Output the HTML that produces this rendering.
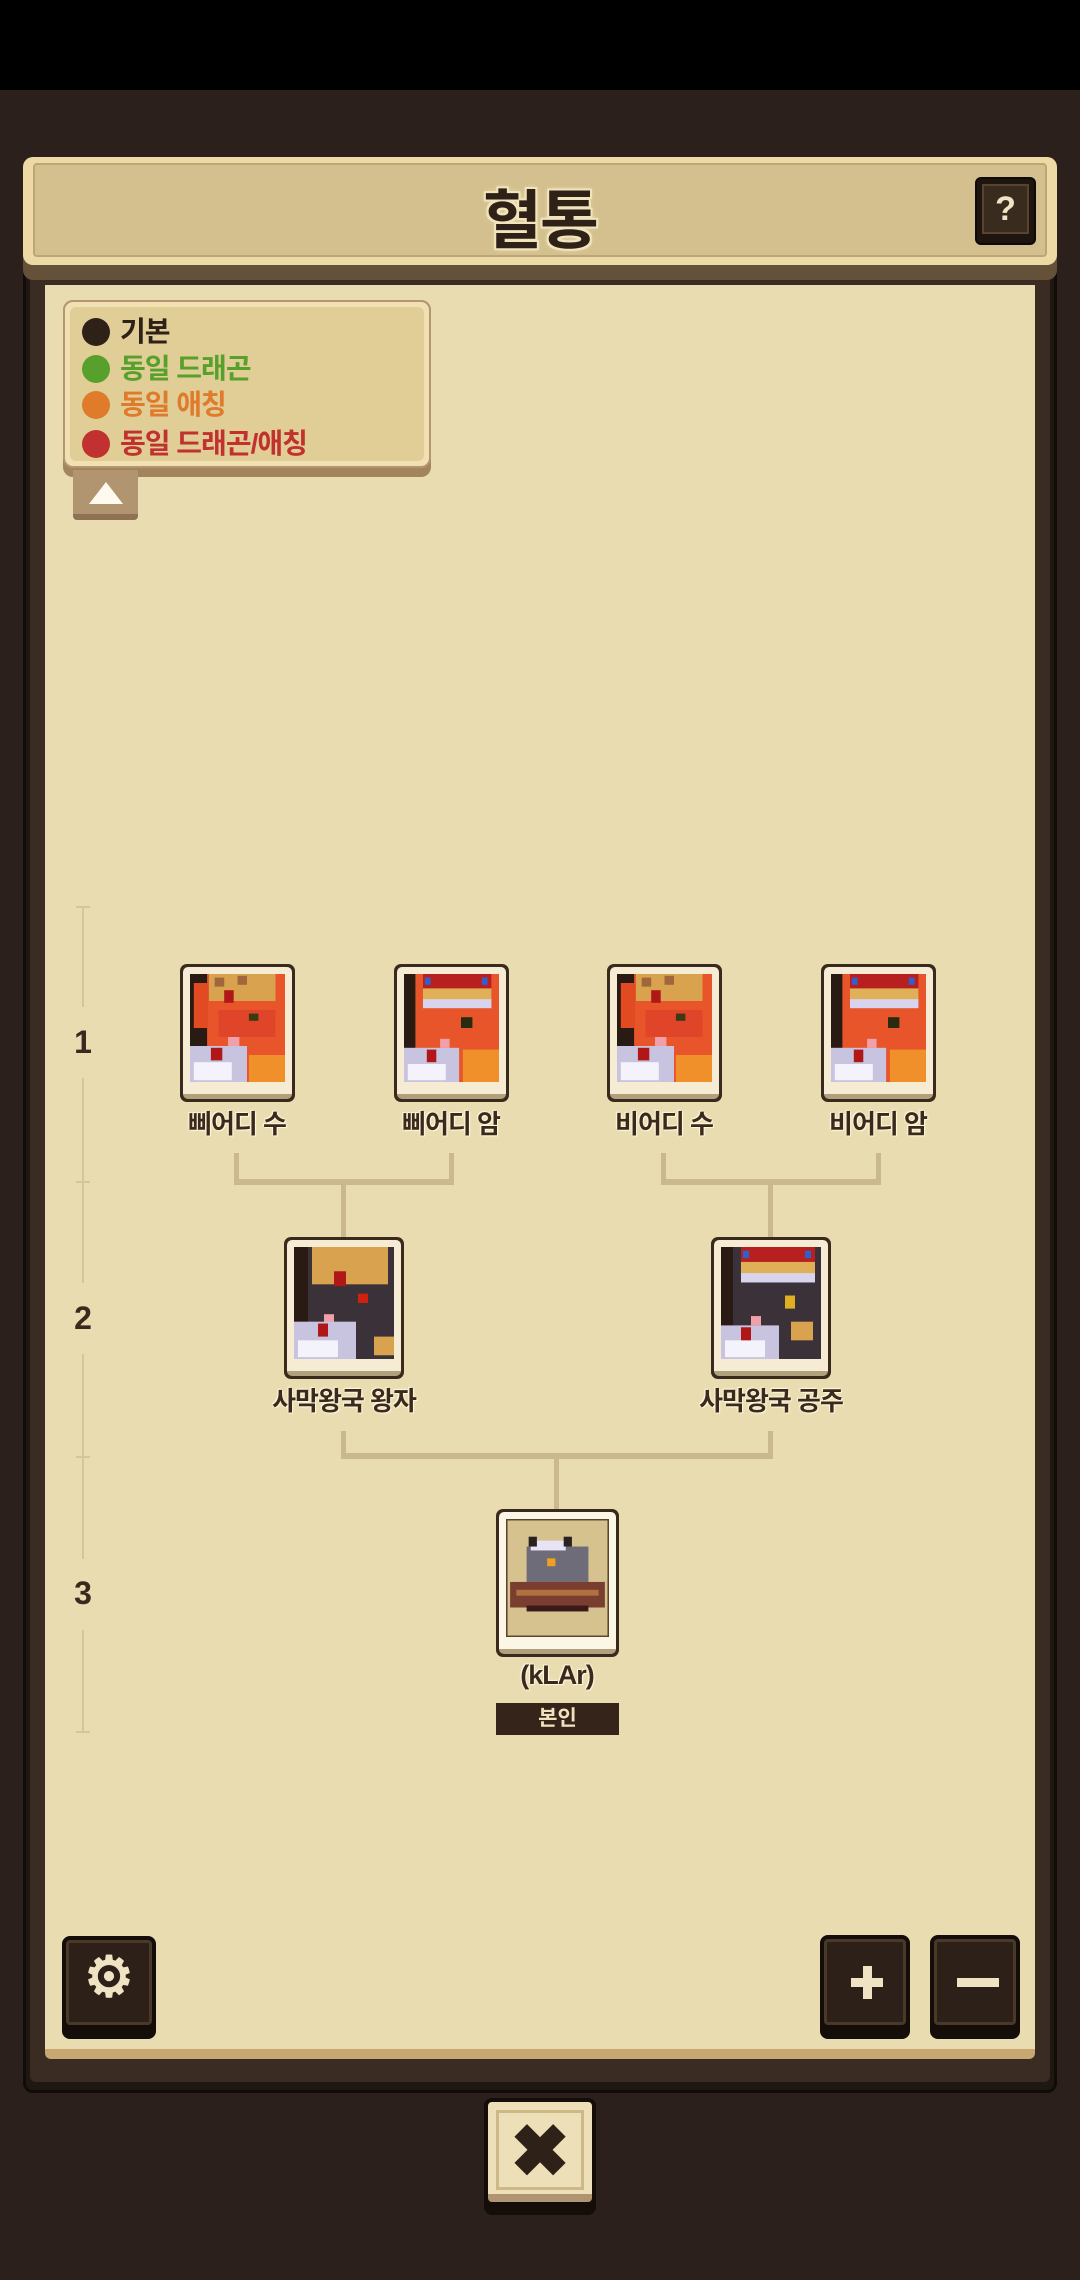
<!DOCTYPE html>
<html><head><meta charset="utf-8">
<style>
*{margin:0;padding:0;box-sizing:border-box}
body{width:1080px;height:2280px;background:#2b201c;position:relative;overflow:hidden;font-family:"Liberation Sans","Noto Sans CJK KR",sans-serif;font-weight:bold}
.abs{position:absolute}
.top{left:0;top:0;width:1080px;height:90px;background:#000}
.frame{left:23px;top:250px;width:1034px;height:1843px;background:#1f1712;border-radius:10px;border:3px solid #120c09}
.frame2{left:30px;top:260px;width:1020px;height:1822px;background:#3a2c22;border-radius:6px}
.cream{left:45px;top:285px;width:990px;height:1774px;background:#e8dcb0;border-bottom:10px solid #c6a870;border-radius:0 0 6px 6px}
.header{left:23px;top:157px;width:1034px;height:123px;background:#65503a;border-radius:10px}
.header .in{position:absolute;left:0;top:0;width:1034px;height:108px;background:#ecd9a4;border-radius:10px}
.header .in2{position:absolute;left:10px;top:6px;width:1014px;height:94px;background:#d3c08e;border:2px solid #bca676;border-radius:4px}
.title{left:0;width:1080px;top:170px;text-align:center;font-size:64px;color:#2e2118;-webkit-text-stroke:0;text-shadow:0 0 6px #f1e4bc,0 0 4px #f1e4bc,2px 2px 0 #f1e4bc,-2px -2px 0 #f1e4bc,2px -2px 0 #f1e4bc,-2px 2px 0 #f1e4bc;letter-spacing:-2px}
.qbtn{left:975px;top:177px;width:61px;height:68px;background:#1f150f;border-radius:6px;border:2px solid #0f0a07}
.qbtn div{position:absolute;left:5px;top:5px;right:5px;bottom:9px;background:#3a2b1f;border:2px solid #57432f;color:#f1e4c4;font-size:34px;text-align:center;line-height:46px}
.legend{left:63px;top:300px;width:368px;height:177px;background:#a3855d;border-radius:10px}
.legend .in{position:absolute;left:0;top:0;width:368px;height:168px;background:#f1e1b2;border-radius:10px;border:2px solid #b49670}
.legend .in2{position:absolute;left:5px;top:5px;right:5px;bottom:5px;background:#e1cd96;border-radius:6px}
.li{position:absolute;left:17px;font-size:28px;height:36px;line-height:36px;letter-spacing:-1px}
.li span{display:inline-block;width:28px;height:28px;border-radius:50%;vertical-align:-5px;margin-right:10px}
.tab{left:73px;top:470px;width:65px;height:50px;background:#8e7253;border-radius:0 0 4px 4px}
.tab div{position:absolute;left:0;top:0;width:65px;height:44px;background:#b09570}
.tab i{position:absolute;left:16px;top:12px;width:0;height:0;border-left:17px solid transparent;border-right:17px solid transparent;border-bottom:22px solid #fffaf0}
.lv{background:#d6c597;width:2px}
.tick{background:#d6c597;height:2px;width:14px}
.lvl{font-size:32px;color:#3a2a1e;width:40px;text-align:center}
.conn{background:#cbb98e}
.card{background:#3a2a1e;border-radius:7px;padding:3px}
.card .c{background:#f5ecd3;border-radius:5px;width:100%;height:100%;padding:7px 7px 12px;border-bottom:5px solid #b0a07c;position:relative}
.card svg{display:block;width:100%;height:100%}
.lab{font-size:26px;color:#3a2a1e;text-align:center;width:300px;letter-spacing:-1px;text-shadow:0 0 3px #fff6da,1px 1px 0 #fff6da,-1px -1px 0 #fff6da}
.dbtn{background:#140d09;border-radius:8px}
.dbtn .in{position:absolute;left:4px;top:4px;right:4px;bottom:14px;background:#2d2018;border:3px solid #4a3928;border-radius:4px;color:#efe3c4;text-align:center}
</style></head><body>
<div class="abs top"></div>
<div class="abs frame"></div>
<div class="abs frame2"></div>
<div class="abs cream"></div>
<div class="abs header"><div class="in"><div class="in2"></div></div></div>
<div class="abs title">혈통</div>
<div class="abs qbtn"><div>?</div></div>

<div class="abs legend"><div class="in"><div class="in2"></div>
<div class="li" style="top:12px;color:#2e2118"><span style="background:#2e2118"></span>기본</div>
<div class="li" style="top:49px;color:#58a02c"><span style="background:#58a02c"></span>동일 드래곤</div>
<div class="li" style="top:85px;color:#e07b2c"><span style="background:#e07b2c"></span>동일 애칭</div>
<div class="li" style="top:124px;color:#c0312f"><span style="background:#c0312f"></span>동일 드래곤/애칭</div>
</div></div>
<div class="abs tab"><div></div><i></i></div>

<!-- level scale -->
<div class="abs tick" style="left:76px;top:906px"></div>
<div class="abs lv" style="left:82px;top:907px;height:100px"></div>
<div class="abs lvl" style="left:63px;top:1024px">1</div>
<div class="abs lv" style="left:82px;top:1078px;height:205px"></div>
<div class="abs tick" style="left:76px;top:1181px"></div>
<div class="abs lvl" style="left:63px;top:1300px">2</div>
<div class="abs lv" style="left:82px;top:1354px;height:205px"></div>
<div class="abs tick" style="left:76px;top:1456px"></div>
<div class="abs lvl" style="left:63px;top:1575px">3</div>
<div class="abs lv" style="left:82px;top:1630px;height:102px"></div>
<div class="abs tick" style="left:76px;top:1731px"></div>

<!-- connectors -->
<div class="abs conn" style="left:234px;top:1153px;width:5px;height:32px"></div>
<div class="abs conn" style="left:449px;top:1153px;width:5px;height:32px"></div>
<div class="abs conn" style="left:234px;top:1179px;width:220px;height:6px"></div>
<div class="abs conn" style="left:341px;top:1183px;width:5px;height:55px"></div>
<div class="abs conn" style="left:661px;top:1153px;width:5px;height:32px"></div>
<div class="abs conn" style="left:876px;top:1153px;width:5px;height:32px"></div>
<div class="abs conn" style="left:661px;top:1179px;width:220px;height:6px"></div>
<div class="abs conn" style="left:768px;top:1183px;width:5px;height:55px"></div>
<div class="abs conn" style="left:341px;top:1431px;width:5px;height:28px"></div>
<div class="abs conn" style="left:768px;top:1431px;width:5px;height:28px"></div>
<div class="abs conn" style="left:341px;top:1453px;width:432px;height:6px"></div>
<div class="abs conn" style="left:554px;top:1457px;width:5px;height:53px"></div>

<svg width="0" height="0" style="position:absolute">
<defs>
<g id="redA">
<rect width="100" height="120" fill="#e8552a"/>
<rect x="0" y="0" width="18" height="120" fill="#2a1a14"/>
<rect x="4" y="10" width="14" height="50" fill="#e24a22"/>
<rect x="20" y="0" width="70" height="30" fill="#d8a24e"/>
<rect x="26" y="4" width="10" height="10" fill="#a0683a"/><rect x="50" y="2" width="10" height="10" fill="#a0683a"/>
<rect x="36" y="18" width="10" height="14" fill="#b01818"/>
<rect x="60" y="44" width="14" height="8" fill="#2a2a10"/>
<rect x="30" y="40" width="60" height="30" fill="#e0452a"/>
<rect x="62" y="44" width="10" height="8" fill="#3a3a14"/>
<rect x="40" y="70" width="12" height="10" fill="#f0a0a8"/>
<rect x="0" y="80" width="60" height="40" fill="#c8c4e0"/>
<rect x="4" y="98" width="40" height="20" fill="#f4f2fa"/>
<rect x="22" y="82" width="12" height="14" fill="#b01818"/>
<rect x="62" y="90" width="38" height="30" fill="#f0902a"/>
</g>
<g id="redB">
<rect width="100" height="120" fill="#e8552a"/>
<rect x="0" y="0" width="12" height="120" fill="#2a1a14"/>
<rect x="20" y="0" width="72" height="24" fill="#b82020"/>
<rect x="20" y="16" width="72" height="14" fill="#e0b058"/>
<rect x="22" y="4" width="6" height="8" fill="#3060d0"/><rect x="82" y="4" width="6" height="8" fill="#3060d0"/>
<rect x="20" y="28" width="72" height="10" fill="#d8d4ee"/>
<rect x="60" y="48" width="12" height="12" fill="#2a2a10"/>
<rect x="38" y="72" width="10" height="10" fill="#f0a0a8"/>
<rect x="0" y="82" width="58" height="38" fill="#c8c4e0"/>
<rect x="4" y="100" width="40" height="18" fill="#f4f2fa"/>
<rect x="24" y="84" width="10" height="14" fill="#b01818"/>
<rect x="62" y="84" width="38" height="36" fill="#f0902a"/>
</g>
<g id="blackA">
<rect width="100" height="120" fill="#3a3238"/>
<rect x="0" y="0" width="14" height="120" fill="#2a1a14"/>
<rect x="18" y="0" width="76" height="40" fill="#d8a24e"/>
<rect x="40" y="26" width="12" height="16" fill="#b01818"/>
<rect x="64" y="50" width="10" height="10" fill="#d02010"/>
<rect x="30" y="72" width="10" height="10" fill="#f0a0a8"/>
<rect x="0" y="80" width="62" height="40" fill="#c8c4e0"/>
<rect x="4" y="100" width="40" height="18" fill="#f4f2fa"/>
<rect x="24" y="82" width="10" height="14" fill="#b01818"/>
<rect x="80" y="96" width="20" height="20" fill="#d8a24e"/>
</g>
<g id="blackB">
<rect width="100" height="120" fill="#3a3238"/>
<rect x="0" y="0" width="12" height="120" fill="#2a1a14"/>
<rect x="20" y="0" width="74" height="24" fill="#b82020"/>
<rect x="20" y="16" width="74" height="14" fill="#e0b058"/>
<rect x="22" y="4" width="6" height="8" fill="#3060d0"/><rect x="84" y="4" width="6" height="8" fill="#3060d0"/>
<rect x="20" y="28" width="74" height="10" fill="#d8d4ee"/>
<rect x="64" y="52" width="10" height="14" fill="#e0b020"/>
<rect x="30" y="74" width="10" height="10" fill="#f0a0a8"/>
<rect x="0" y="84" width="58" height="36" fill="#c8c4e0"/>
<rect x="4" y="100" width="40" height="18" fill="#f4f2fa"/>
<rect x="20" y="86" width="10" height="14" fill="#b01818"/>
<rect x="70" y="80" width="22" height="20" fill="#d8a24e"/>
</g>
</defs></svg>

<!-- row1 cards -->
<div class="abs card" style="left:180px;top:964px;width:115px;height:138px"><div class="c"><svg viewBox="0 0 100 120" preserveAspectRatio="none"><use href="#redA"/></svg></div></div>
<div class="abs card" style="left:394px;top:964px;width:115px;height:138px"><div class="c"><svg viewBox="0 0 100 120" preserveAspectRatio="none"><use href="#redB"/></svg></div></div>
<div class="abs card" style="left:607px;top:964px;width:115px;height:138px"><div class="c"><svg viewBox="0 0 100 120" preserveAspectRatio="none"><use href="#redA"/></svg></div></div>
<div class="abs card" style="left:821px;top:964px;width:115px;height:138px"><div class="c"><svg viewBox="0 0 100 120" preserveAspectRatio="none"><use href="#redB"/></svg></div></div>
<div class="abs lab" style="left:87px;top:1104px">삐어디 수</div>
<div class="abs lab" style="left:301px;top:1104px">삐어디 암</div>
<div class="abs lab" style="left:514px;top:1104px">비어디 수</div>
<div class="abs lab" style="left:728px;top:1104px">비어디 암</div>

<!-- row2 -->
<div class="abs card" style="left:284px;top:1237px;width:120px;height:142px"><div class="c"><svg viewBox="0 0 100 120" preserveAspectRatio="none"><use href="#blackA"/></svg></div></div>
<div class="abs card" style="left:711px;top:1237px;width:120px;height:142px"><div class="c"><svg viewBox="0 0 100 120" preserveAspectRatio="none"><use href="#blackB"/></svg></div></div>
<div class="abs lab" style="left:194px;top:1381px">사막왕국 왕자</div>
<div class="abs lab" style="left:621px;top:1381px">사막왕국 공주</div>

<!-- row3 -->
<div class="abs card" style="left:496px;top:1509px;width:123px;height:148px"><div class="c" style="background:#fbf6e6"><svg viewBox="0 0 100 120" preserveAspectRatio="none">
<rect width="100" height="120" fill="#d6c28e" stroke="#5a4630" stroke-width="3"/>
<rect x="20" y="28" width="60" height="36" fill="#6e6c78"/>
<rect x="24" y="22" width="34" height="10" fill="#e8e4f6"/>
<rect x="22" y="18" width="8" height="10" fill="#2a2220"/><rect x="56" y="18" width="8" height="10" fill="#2a2220"/>
<rect x="40" y="40" width="8" height="8" fill="#f0a020"/>
<rect x="4" y="64" width="92" height="26" fill="#7a3e30"/>
<rect x="10" y="72" width="80" height="6" fill="#b07040"/>
<rect x="20" y="88" width="60" height="6" fill="#3a1a18"/>
</svg></div></div>
<div class="abs lab" style="left:407px;top:1660px;font-size:27px">(kLAr)</div>
<div class="abs" style="left:496px;top:1703px;width:123px;height:32px;background:#34241a;color:#f1e2bd;font-size:21px;text-align:center;line-height:32px">본인</div>

<!-- bottom buttons -->
<div class="abs dbtn" style="left:62px;top:1936px;width:94px;height:103px"><div class="in" style="font-size:56px;line-height:68px">⚙</div></div>
<div class="abs dbtn" style="left:820px;top:1935px;width:90px;height:104px"><div class="in"><div style="position:absolute;left:24px;top:36px;width:32px;height:9px;background:#efe3c4"></div><div style="position:absolute;left:35.5px;top:24px;width:9px;height:33px;background:#efe3c4"></div></div></div>
<div class="abs dbtn" style="left:930px;top:1935px;width:90px;height:104px"><div class="in"><div style="position:absolute;left:20px;top:36px;width:42px;height:9px;background:#efe3c4"></div></div></div>

<!-- close -->
<div class="abs" style="left:484px;top:2098px;width:112px;height:117px;background:#140d09;border-radius:8px"></div>
<div class="abs" style="left:488px;top:2102px;width:104px;height:100px;background:#ede0b8;border-radius:4px;border-bottom:8px solid #b09570"></div>
<div class="abs" style="left:496px;top:2110px;width:88px;height:80px;border:3px solid #cdb987"></div>
<div class="abs" style="left:484px;top:2112px;width:112px;text-align:center;font-size:72px;line-height:80px;color:#2e2118">✖</div>
</body></html>
